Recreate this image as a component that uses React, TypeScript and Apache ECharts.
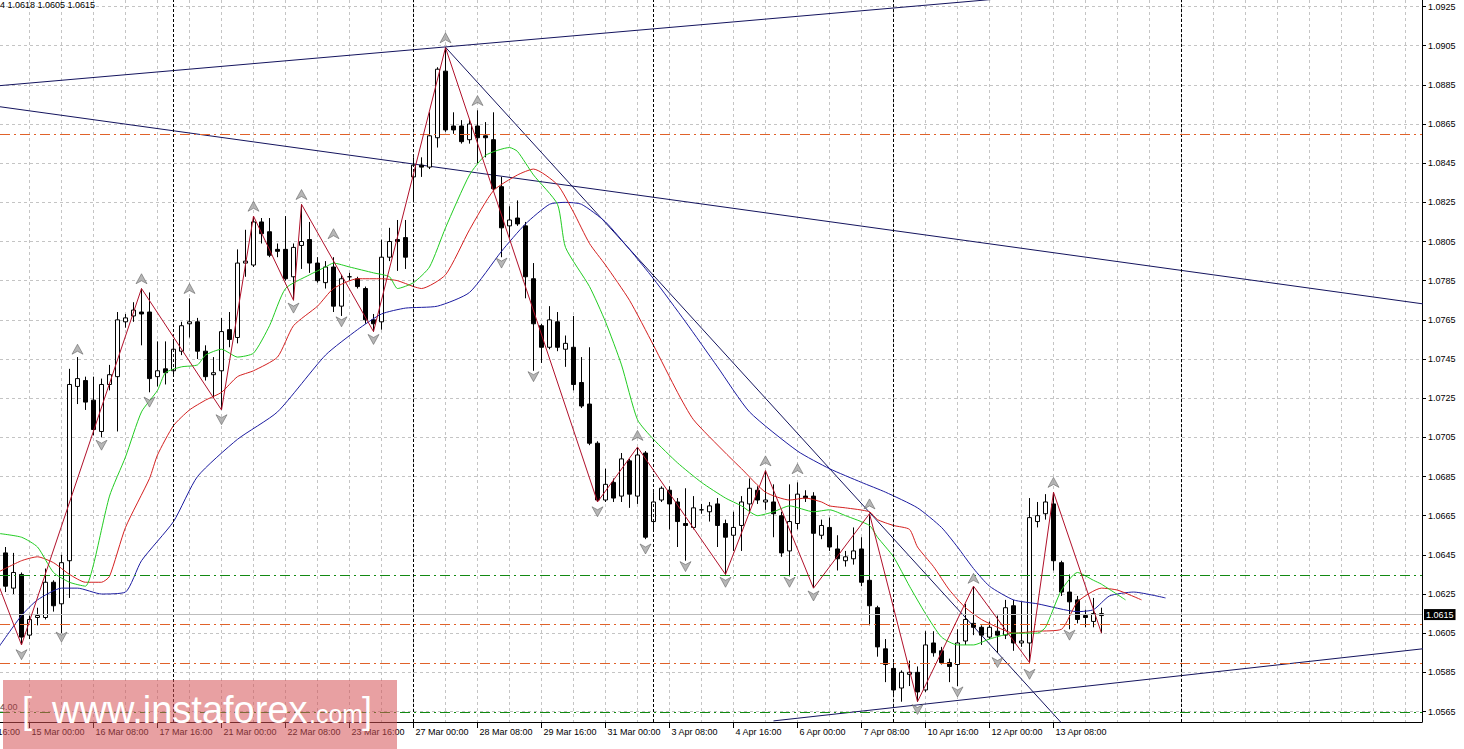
import React, { useEffect, useRef } from "react";
import * as echarts from "echarts";

// ---- candles (H4), index 0 = 14 Mar 12:00 ----
const opens = [1.0646,1.0628,1.0635,1.0604,1.0613,1.0613,1.0631,1.0620,1.0642,1.0731,1.0734,1.0724,1.0708,1.0732,1.0736,1.0764,1.0767,1.0769,1.0769,1.0736,1.0740,1.0739,1.0749,1.0763,1.0764,1.0749,1.0737,1.0739,1.0760,1.0756,1.0794,1.0793,1.0815,1.0810,1.0801,1.0801,1.0787,1.0803,1.0806,1.0794,1.0784,1.0792,1.0772,1.0787,1.0786,1.0781,1.0765,1.0764,1.0797,1.0806,1.0807,1.0838,1.0844,1.0843,1.0858,1.0892,1.0864,1.0864,1.0857,1.0864,1.0859,1.0857,1.0833,1.0813,1.0817,1.0813,1.0786,1.0762,1.0751,1.0764,1.0750,1.0751,1.0733,1.0722,1.0702,1.0673,1.0682,1.0675,1.0693,1.0675,1.0697,1.0662,1.0673,1.0678,1.0672,1.0661,1.0659,1.0668,1.0667,1.0671,1.0661,1.0655,1.0660,1.0671,1.0678,1.0672,1.0672,1.0665,1.0647,1.0661,1.0675,1.0675,1.0655,1.0659,1.0648,1.0642,1.0643,1.0648,1.0632,1.0618,1.0597,1.0587,1.0577,1.0584,1.0585,1.0576,1.0600,1.0596,1.0590,1.0589,1.0601,1.0610,1.0608,1.0603,1.0606,1.0604,1.0619,1.0600,1.0600,1.0662,1.0666,1.0671,1.0641,1.0626,1.0622,1.0614,1.0611,1.0614];
const highs = [1.0649,1.0646,1.0636,1.0614,1.0618,1.0638,1.0632,1.0645,1.0740,1.0746,1.0736,1.0736,1.0735,1.0742,1.0769,1.0768,1.0774,1.0781,1.0779,1.0754,1.0754,1.0754,1.0764,1.0776,1.0766,1.0752,1.0746,1.0766,1.0769,1.0801,1.0811,1.0818,1.0817,1.0817,1.0804,1.0818,1.0804,1.0824,1.0815,1.0797,1.0795,1.0797,1.0788,1.0789,1.0787,1.0782,1.0768,1.0806,1.0812,1.0816,1.0816,1.0848,1.0848,1.0871,1.0894,1.0904,1.0871,1.0867,1.0867,1.0872,1.0866,1.0871,1.0838,1.0823,1.0826,1.0815,1.0794,1.0763,1.0772,1.0769,1.0757,1.0767,1.0746,1.0751,1.0703,1.0689,1.0684,1.0697,1.0694,1.0700,1.0698,1.0677,1.0680,1.0680,1.0674,1.0679,1.0675,1.0671,1.0672,1.0674,1.0663,1.0667,1.0675,1.0684,1.0680,1.0688,1.0681,1.0667,1.0681,1.0682,1.0678,1.0677,1.0663,1.0664,1.0655,1.0647,1.0659,1.0654,1.0666,1.0619,1.0602,1.0590,1.0586,1.0591,1.0588,1.0606,1.0606,1.0598,1.0592,1.0607,1.0620,1.0629,1.0609,1.0611,1.0614,1.0622,1.0622,1.0621,1.0674,1.0672,1.0676,1.0677,1.0642,1.0635,1.0624,1.0617,1.0623,1.0618];
const lows = [1.0626,1.0625,1.0599,1.0602,1.0609,1.0612,1.0616,1.0605,1.0623,1.0722,1.0719,1.0706,1.0705,1.0729,1.0708,1.0761,1.0764,1.0752,1.0728,1.0731,1.0732,1.0737,1.0747,1.0756,1.0745,1.0734,1.0725,1.0719,1.0751,1.0753,1.0787,1.0792,1.0804,1.0797,1.0797,1.0785,1.0775,1.0791,1.0789,1.0784,1.0781,1.0769,1.0767,1.0785,1.0781,1.0763,1.0759,1.0760,1.0795,1.0790,1.0791,1.0825,1.0838,1.0842,1.0853,1.0861,1.0860,1.0855,1.0855,1.0845,1.0848,1.0831,1.0797,1.0807,1.0813,1.0776,1.0739,1.0743,1.0750,1.0749,1.0741,1.0729,1.0720,1.0701,1.0672,1.0672,1.0672,1.0672,1.0669,1.0671,1.0653,1.0658,1.0672,1.0658,1.0649,1.0642,1.0658,1.0666,1.0662,1.0649,1.0635,1.0647,1.0647,1.0666,1.0671,1.0668,1.0654,1.0644,1.0634,1.0658,1.0672,1.0628,1.0653,1.0647,1.0637,1.0639,1.0640,1.0629,1.0609,1.0593,1.0580,1.0574,1.0570,1.0578,1.0570,1.0575,1.0593,1.0589,1.0580,1.0578,1.0599,1.0604,1.0599,1.0602,1.0595,1.0602,1.0596,1.0598,1.0590,1.0659,1.0663,1.0637,1.0624,1.0607,1.0610,1.0608,1.0608,1.0605];
const closes = [1.0629,1.0636,1.0603,1.0612,1.0614,1.0631,1.0619,1.0641,1.0732,1.0735,1.0723,1.0709,1.0732,1.0737,1.0765,1.0766,1.0770,1.0768,1.0735,1.0739,1.0738,1.0750,1.0762,1.0764,1.0749,1.0736,1.0738,1.0759,1.0755,1.0794,1.0795,1.0815,1.0809,1.0798,1.0800,1.0786,1.0802,1.0805,1.0794,1.0785,1.0792,1.0772,1.0786,1.0787,1.0782,1.0765,1.0763,1.0797,1.0805,1.0805,1.0797,1.0844,1.0843,1.0859,1.0893,1.0862,1.0862,1.0856,1.0865,1.0858,1.0858,1.0832,1.0812,1.0816,1.0814,1.0787,1.0763,1.0751,1.0765,1.0751,1.0753,1.0732,1.0721,1.0702,1.0673,1.0681,1.0674,1.0694,1.0676,1.0696,1.0654,1.0672,1.0679,1.0671,1.0662,1.0660,1.0669,1.0668,1.0670,1.0660,1.0654,1.0659,1.0672,1.0679,1.0673,1.0673,1.0666,1.0646,1.0662,1.0676,1.0674,1.0656,1.0660,1.0649,1.0643,1.0644,1.0647,1.0631,1.0619,1.0598,1.0589,1.0576,1.0585,1.0585,1.0575,1.0599,1.0595,1.0590,1.0588,1.0600,1.0612,1.0608,1.0604,1.0608,1.0604,1.0618,1.0600,1.0601,1.0664,1.0665,1.0672,1.0642,1.0626,1.0621,1.0612,1.0613,1.0615,1.0615];

// ---- Alligator lines (index, price) ----
const jaw = [[-1,1.0597],[2,1.0614],[4,1.0622],[7,1.0628],[9,1.0628],[12,1.0625],[15,1.0626],[17,1.0642],[21,1.0662],[24,1.0685],[29,1.0704],[34,1.0718],[40,1.0747],[44,1.0760],[47,1.0768],[50,1.0771],[54,1.0772],[58,1.0779],[62,1.0800],[65,1.0814],[68,1.0824],[70,1.0825],[72,1.0824],[75,1.0815],[78,1.0801],[81,1.0786],[85,1.0764],[89,1.0741],[93,1.0718],[99,1.0698],[103,1.0689],[107,1.0682],[110,1.0677],[114,1.0669],[117,1.0659],[119,1.0649],[121,1.0638],[123,1.0629],[126,1.0622],[129,1.0620],[134,1.0616],[136,1.0617],[138,1.0624],[141,1.0626],[145,1.0623]];
const teeth = [[-1,1.0636],[2,1.0642],[4,1.0644],[6,1.0641],[8,1.0635],[10,1.0631],[12,1.0631],[13,1.0634],[15,1.0659],[18,1.0684],[19,1.0696],[21,1.0711],[23,1.0719],[25,1.0724],[27,1.0728],[29,1.0736],[31,1.0739],[34,1.0746],[36,1.0762],[39,1.0772],[41,1.0781],[44,1.0786],[47,1.0786],[49,1.0785],[51,1.0782],[52,1.0781],[55,1.0788],[58,1.0811],[61,1.0831],[64,1.0839],[66,1.0842],[69,1.0834],[71,1.0820],[73,1.0804],[75,1.0793],[78,1.0775],[81,1.0752],[84,1.0728],[86,1.0714],[90,1.0697],[92,1.0689],[95,1.0677],[98,1.0673],[100,1.0674],[102,1.0672],[103,1.0670],[105,1.0669],[108,1.0667],[109,1.0663],[111,1.0660],[113,1.0658],[114,1.0649],[116,1.0639],[118,1.0627],[120,1.0618],[122,1.0612],[124,1.0608],[126,1.0605],[129,1.0606],[132,1.0607],[134,1.0621],[137,1.0628],[139,1.0627],[142,1.0622]];
const lips = [[-1,1.0656],[2,1.0654],[4,1.0649],[6,1.0636],[8,1.0631],[10,1.0629],[11,1.0640],[13,1.0675],[15,1.0695],[17,1.0718],[19,1.0729],[20,1.0738],[22,1.0741],[24,1.0742],[25,1.0747],[27,1.0750],[29,1.0746],[31,1.0748],[33,1.0762],[35,1.0781],[38,1.0788],[40,1.0792],[41,1.0794],[43,1.0792],[46,1.0789],[48,1.0787],[49,1.0781],[51,1.0784],[53,1.0792],[55,1.0812],[58,1.0839],[60,1.0849],[63,1.0853],[64,1.0851],[66,1.0839],[69,1.0824],[70,1.0802],[73,1.0782],[75,1.0764],[77,1.0742],[79,1.0714],[81,1.0704],[84,1.0692],[87,1.0682],[90,1.0674],[92,1.0670],[94,1.0665],[96,1.0667],[98,1.0670],[101,1.0667],[103,1.0668],[105,1.0665],[108,1.0660],[109,1.0654],[111,1.0644],[113,1.0629],[115,1.0615],[117,1.0603],[119,1.0599],[121,1.0599],[123,1.0602],[126,1.0605],[129,1.0605],[130,1.0608],[132,1.0627],[134,1.0636],[136,1.0632],[137,1.0630],[140,1.0622]];

// ---- ZigZag pivots ----
const zigzag = [[-1,1.0631],[2,1.0599],[17,1.0781],[27,1.0719],[31,1.0818],[36,1.0775],[37,1.0824],[46,1.0759],[55,1.0904],[74,1.0672],[79,1.0700],[90,1.0635],[95,1.0688],[101,1.0628],[108,1.0666],[114,1.0570],[121,1.0629],[128,1.0590],[131,1.0677],[137,1.0605]];

// ---- Fractals ----
const fractalUp = [[9,1.0750],[17,1.0786],[23,1.0781],[31,1.0823],[37,1.0829],[41,1.0809],[55,1.0909],[59,1.0877],[79,1.0706],[95,1.0693],[99,1.0689],[108,1.0671],[121,1.0633],[131,1.0682]];
const fractalDown = [[2,1.0594],[7,1.0603],[12,1.0701],[18,1.0723],[27,1.0714],[36,1.0771],[42,1.0764],[46,1.0755],[62,1.0794],[66,1.0736],[74,1.0667],[80,1.0648],[85,1.0639],[90,1.0631],[98,1.0631],[101,1.0624],[114,1.0566],[119,1.0575],[124,1.0590],[128,1.0584],[133,1.0604]];

// ---- Trend lines (two end points each) ----
const trendUpper = [[-1,1.08845],[130,1.09310]];
const trendLong = [[-1,1.08740],[178,1.07727]];
const trendFromPeak = [[55,1.09042],[135,1.05457]];
const trendBottom = [[96,1.05602],[178,1.05974]];

// ---- Horizontal levels (read to 5 decimals) ----
const orangeLevels = [1.08597, 1.06094, 1.05895];
const greenLevels = [1.06345, 1.05645];
const lastPrice = 1.06145;
const lastPriceText = "1.0615";

// ---- Axes ----
const xLabelIdx = [3,11,19,27,35,43,51,59,67,75,83,91,99,107,115,123,131];
const xLabels = ["15 Mar 00:00","16 Mar 08:00","17 Mar 16:00","21 Mar 00:00","22 Mar 08:00","23 Mar 16:00","27 Mar 00:00","28 Mar 08:00","29 Mar 16:00","31 Mar 00:00","3 Apr 08:00","4 Apr 16:00","6 Apr 00:00","7 Apr 08:00","10 Apr 16:00","12 Apr 00:00","13 Apr 08:00"];
const yTicks = [1.0565,1.0585,1.0605,1.0625,1.0645,1.0665,1.0685,1.0705,1.0725,1.0745,1.0765,1.0785,1.0805,1.0825,1.0845,1.0865,1.0885,1.0905,1.0925];
const separatorIdx = [21, 51, 81, 111, 147];

const FONT = '"Liberation Sans", Arial, sans-serif';

export default function App() {
  const ref = useRef<HTMLDivElement>(null);
  useEffect(() => {
    const el = ref.current!;
    const chart = echarts.init(el, undefined, { renderer: "svg", width: 1464, height: 749 });
    const candleData = opens.map((o, i) => [i, o, closes[i], lows[i], highs[i]]);
    const gridIdx: number[] = [];
    for (let i = 3; i <= 175; i += 4) gridIdx.push(i);
    const xMin = -0.6875, xMax = 177.0625;
    const yMin = 1.055964, yMax = 1.092834;

    const upSym = "path://M5,0L10,10L5,7L0,10Z";
    const dnSym = "path://M0,0L5,3L10,0L5,10Z";

    const option: any = {
      animation: false,
      backgroundColor: "#ffffff",
      grid: { left: 0, right: 42, top: 0, bottom: 27, containLabel: false },
      xAxis: [
        {
          type: "value", min: xMin, max: xMax, position: "bottom",
          axisLine: { show: true, onZero: false, lineStyle: { color: "#000", width: 1 } },
          axisTick: { show: true, customValues: xLabelIdx, length: 6, lineStyle: { color: "#000" } },
          axisLabel: {
            show: true, customValues: xLabelIdx,
            formatter: (v: number) => xLabels[xLabelIdx.indexOf(Math.round(v))] ?? "",
            align: "left", verticalAlign: "middle", margin: 9.5, padding: [0, 0, 0, 2],
            color: "#000", fontFamily: FONT, fontSize: 9,
          },
          splitLine: { show: false },
        },
        {
          type: "value", min: xMin, max: xMax, position: "top",
          axisLine: { show: false },
          axisTick: { show: false, customValues: gridIdx },
          axisLabel: { show: false },
          splitLine: { show: true, lineStyle: { color: "#c4c4c4", type: [3, 3], width: 1 } },
        },
      ],
      yAxis: {
        type: "value", position: "right", min: yMin, max: yMax, scale: true,
        axisLine: { show: true, onZero: false, lineStyle: { color: "#000", width: 1 } },
        axisTick: { show: true, customValues: yTicks, length: 4, lineStyle: { color: "#000" } },
        axisLabel: {
          show: true, customValues: yTicks, formatter: (v: number) => v.toFixed(4),
          margin: 6, color: "#000", fontFamily: FONT, fontSize: 9,
        },
        splitLine: { show: true, lineStyle: { color: "#c4c4c4", type: [3, 3], width: 1 } },
      },
      series: [
        {
          type: "line", data: [[-5, 1.07]], symbol: "none", z: 1, silent: true,
          markLine: {
            silent: true, symbol: ["none", "none"], precision: 6, label: { show: false },
            data: [
              ...separatorIdx.map((x) => ({ xAxis: x, lineStyle: { color: "#000", type: [3, 2], width: 1 } })),
              ...orangeLevels.map((y) => ({ yAxis: y, lineStyle: { color: "#e0622a", type: [10, 4, 2, 4], width: 1 } })),
              ...greenLevels.map((y) => ({ yAxis: y, lineStyle: { color: "#128a12", type: [10, 4, 2, 4], width: 1 } })),
              {
                yAxis: lastPrice, lineStyle: { color: "#bdbdbd", type: "solid", width: 1 },
                label: {
                  show: true, position: "end", formatter: lastPriceText, distance: 2,
                  color: "#fff", backgroundColor: "#000", padding: [1, 2, 1, 2],
                  fontFamily: FONT, fontSize: 9,
                },
              },
            ],
          },
        },
        ...[trendUpper, trendLong, trendFromPeak, trendBottom].map((d) => ({
          type: "line", data: d, symbol: "none", z: 2, silent: true, clip: true,
          lineStyle: { color: "#14145e", width: 1 },
        })),
        {
          type: "candlestick", data: candleData, encode: { x: 0, y: [1, 2, 3, 4] },
          barWidth: 5, z: 3,
          itemStyle: { color: "#ffffff", color0: "#000000", borderColor: "#000000", borderColor0: "#000000", borderColorDoji: "#000000", borderWidth: 1 },
        },
        { type: "line", data: jaw, symbol: "none", smooth: 0.2, z: 4, lineStyle: { color: "#1c1ca0", width: 1 } },
        { type: "line", data: teeth, symbol: "none", smooth: 0.2, z: 4, lineStyle: { color: "#d42020", width: 1 } },
        { type: "line", data: lips, symbol: "none", smooth: 0.2, z: 4, lineStyle: { color: "#22cc22", width: 1 } },
        { type: "line", data: zigzag, symbol: "none", z: 5, lineStyle: { color: "#b0102a", width: 1 } },
        {
          type: "scatter", data: fractalUp, symbol: upSym, symbolSize: [11, 10], z: 6,
          itemStyle: { color: "#a4a4a4", borderColor: "#5e5e5e", borderWidth: 0.7 },
        },
        {
          type: "scatter", data: fractalDown, symbol: dnSym, symbolSize: [11, 10], z: 6,
          itemStyle: { color: "#a4a4a4", borderColor: "#5e5e5e", borderWidth: 0.7 },
        },
      ],
      graphic: [
        { type: "text", x: 0, y: 5, z: 50, style: { text: "4 1.0618 1.0605 1.0615", fill: "#000", font: `9px ${FONT}`, verticalAlign: "middle", textVerticalAlign: "middle" } },
        { type: "text", x: -33, y: 731.5, z: 50, style: { text: "14 Mar 16:00", fill: "#000", font: `9px ${FONT}`, verticalAlign: "middle", textVerticalAlign: "middle" } },
        { type: "text", x: 0, y: 707, z: 50, style: { text: "4.00", fill: "#333", font: `9px ${FONT}`, verticalAlign: "middle", textVerticalAlign: "middle" } },
        { type: "rect", z: 100, shape: { x: 3, y: 680, width: 394, height: 69 }, style: { fill: "rgba(213,82,86,0.55)" } },
        { type: "text", x: 22, y: 710, z: 101, style: { text: "[", fill: "#ffffff", font: `36px ${FONT}`, verticalAlign: "middle", textVerticalAlign: "middle" } },
        { type: "text", x: 52, y: 710, z: 101, style: { text: "www.instaforex", fill: "#ffffff", font: `38px ${FONT}`, verticalAlign: "middle", textVerticalAlign: "middle" } },
        { type: "text", x: 309, y: 714, z: 101, style: { text: ".com", fill: "#ffffff", font: `25px ${FONT}`, verticalAlign: "middle", textVerticalAlign: "middle" } },
        { type: "text", x: 362, y: 710, z: 101, style: { text: "]", fill: "#ffffff", font: `36px ${FONT}`, verticalAlign: "middle", textVerticalAlign: "middle" } },
      ],
    };
    chart.setOption(option);
    return () => chart.dispose();
  }, []);
  return (
    <div
      ref={ref}
      style={{ position: "fixed", left: 0, top: 0, width: 1464, height: 749, background: "#fff" }}
    />
  );
}
